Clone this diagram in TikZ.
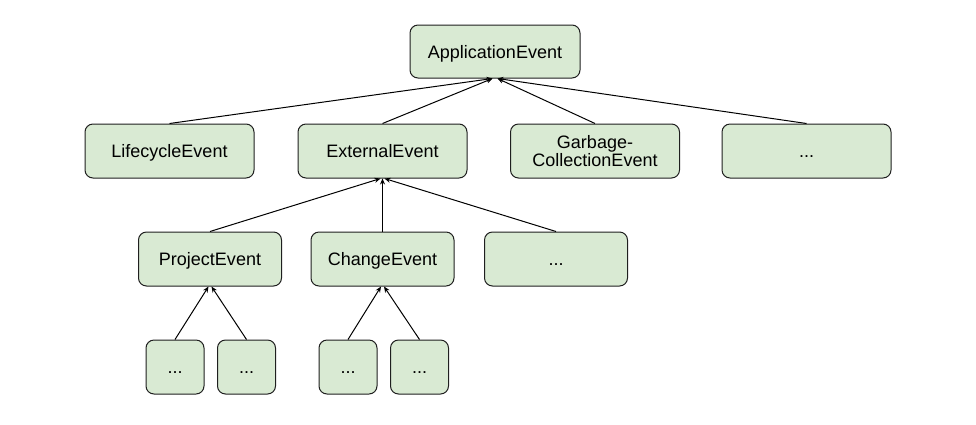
\documentclass[tikz,border=0pt]{standalone}
\usepackage{fontspec}
\setmainfont{Liberation Sans}
\usetikzlibrary{arrows.meta}
\definecolor{boxfill}{HTML}{D9EAD3}
\definecolor{boxline}{HTML}{1F1F1F}
\tikzset{
  evbox/.style={draw=boxline, fill=boxfill, rounded corners=8pt, line width=1pt,
    inner sep=0pt, align=center, font=\fontsize{18}{18}\selectfont,
    text height=13pt, text depth=0pt},
  big/.style={evbox, minimum width=169pt, minimum height=54pt},
  mid/.style={evbox, minimum width=143pt, minimum height=54pt},
  small/.style={evbox, minimum width=58pt, minimum height=54pt},
  link/.style={draw=black, line width=1pt, -{Stealth[length=6pt,width=5pt]}}
}
\begin{document}
\begin{tikzpicture}[x=1pt,y=-1pt]
\useasboundingbox (0,0) rectangle (976,424);
\node[evbox, minimum width=170pt, minimum height=53pt] (app) at (495,51.5) {ApplicationEvent};
\node[big] (life) at (169.5,151) {LifecycleEvent};
\node[big] (ext) at (382.5,151) {ExternalEvent};
\node[big, text height=31pt, text depth=0pt] (gc) at (595,151) {Garbage-\\CollectionEvent};
\node[big] (more1) at (806.5,151) {...};
\node[mid] (proj) at (210,259) {ProjectEvent};
\node[mid] (chg) at (382.5,259) {ChangeEvent};
\node[mid] (more2) at (556,259) {...};
\node[small] (p1) at (175,367) {...};
\node[small] (p2) at (246.5,367) {...};
\node[small] (c1) at (348,367) {...};
\node[small] (c2) at (419.5,367) {...};
\draw[link] (life.north) -- ([xshift=-2.5pt]app.south);
\draw[link] (ext.north) -- ([xshift=-2.5pt]app.south);
\draw[link] (gc.north) -- ([xshift=2.5pt]app.south);
\draw[link] (more1.north) -- ([xshift=2.5pt]app.south);
\draw[link] (proj.north) -- ([xshift=-2pt]ext.south);
\draw[link] (chg.north) -- (ext.south);
\draw[link] (more2.north) -- ([xshift=2pt]ext.south);
\draw[link] (p1.north) -- ([xshift=-1.5pt]proj.south);
\draw[link] (p2.north) -- ([xshift=1.5pt]proj.south);
\draw[link] (c1.north) -- ([xshift=-1.5pt]chg.south);
\draw[link] (c2.north) -- ([xshift=1.5pt]chg.south);
\end{tikzpicture}
\end{document}
